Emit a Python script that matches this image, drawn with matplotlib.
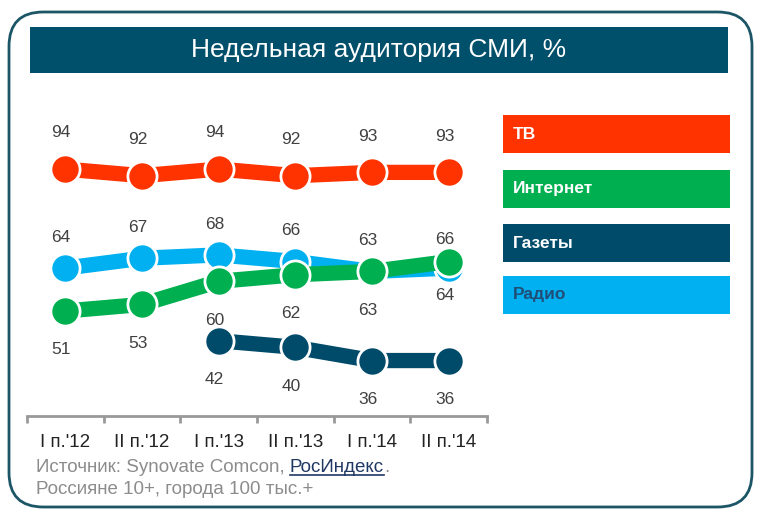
import numpy as np
import matplotlib.pyplot as plt
from matplotlib.patches import FancyBboxPatch, Rectangle
from matplotlib.lines import Line2D

plt.rcParams['font.family'] = ['Liberation Sans', 'DejaVu Sans']

periods = ["I п.'12", "II п.'12", "I п.'13", "II п.'13", "I п.'14", "II п.'14"]
tv = [94, 92, 94, 92, 93, 93]
radio = [64, 67, 68, 66, 63, 64]
internet = [51, 53, 60, 62, 63, 66]
gazety = [None, None, 42, 40, 36, 36]

names = ['ТВ', 'Интернет', 'Газеты', 'Радио']
colors = {'ТВ': '#ff3300', 'Интернет': '#00b050', 'Газеты': '#004a6a', 'Радио': '#00b0f0'}

W, H = 762, 514
fig = plt.figure(figsize=(W / 100, H / 100), dpi=100)

def px(x, y, w, h):
    # pixel box (top-left origin) -> figure fraction
    return [x / W, 1 - (y + h) / H, w / W, h / H]

# rounded frame
frame = FancyBboxPatch((9 / W, 1 - 507 / H), 743 / W, 495 / H,
                       boxstyle="round,pad=0,rounding_size=0.045",
                       transform=fig.transFigure, facecolor='none',
                       edgecolor='#1b5566', linewidth=2, mutation_aspect=W / H)
fig.patches.append(frame)

# title bar
x0, y0, w0, h0 = px(30, 27, 698, 46)
fig.patches.append(Rectangle((x0, y0), w0, h0, transform=fig.transFigure,
                             facecolor='#004f6b', edgecolor='none'))
fig.text(x0 + w0 / 2, y0 + h0 / 2, 'Недельная аудитория СМИ, %', color='white',
         fontsize=19, ha='center', va='center')

# legend boxes
leg_y = [115, 170, 224, 276]
for name, yy in zip(names, leg_y):
    bx, by, bw, bh = px(503, yy, 227, 38)
    fig.patches.append(Rectangle((bx, by), bw, bh, transform=fig.transFigure,
                                 facecolor=colors[name], edgecolor='none'))
    tc = '#1f4e79' if name == 'Радио' else 'white'
    fig.text(bx + 10 / W, by + bh / 2, name, color=tc, fontsize=12.5,
             fontweight='bold', ha='left', va='center')

ax = fig.add_axes(px(27, 110, 460, 306))
ax.set_facecolor('none')
ax.set_zorder(2)
x = np.arange(len(periods))

def draw(vals, name, z):
    xs = [i for i, v in enumerate(vals) if v is not None]
    ys = [v for v in vals if v is not None]
    ax.plot(xs, ys, color=colors[name], lw=11, solid_capstyle='round', zorder=z,
            marker='o', ms=21, mec='white', mew=2)

draw(tv, 'ТВ', 3)
draw(radio, 'Радио', 3)
draw(internet, 'Интернет', 4)
draw(gazety, 'Газеты', 3)

lab = dict(fontsize=12.5, color='#404040', ha='center', va='center')
for i, v in enumerate(tv):
    ax.annotate(str(v), (i, v), xytext=(-3, 26), textcoords='offset points', **lab)
for i, v in enumerate(radio):
    dy = -20 if i == 5 else 22
    ax.annotate(str(v), (i, v), xytext=(-3, dy), textcoords='offset points', **lab)
for i, v in enumerate(internet):
    dy = 16 if i == 5 else -28
    ax.annotate(str(v), (i, v), xytext=(-3, dy), textcoords='offset points', **lab)
for i, v in enumerate(gazety):
    if v is not None:
        ax.annotate(str(v), (i, v), xytext=(-3, -28), textcoords='offset points', **lab)

ax.set_xlim(-0.5, len(periods) - 0.5)
ax.set_ylim(19.2, 111.9)
ax.set_yticks([])
for s in ['top', 'right', 'left']:
    ax.spines[s].set_visible(False)
ax.spines['bottom'].set_color('#999999')
ax.spines['bottom'].set_linewidth(2)
ax.set_xticks(x)
ax.set_xticklabels(periods, fontsize=13.5, color='#222222')
ax.tick_params(axis='x', which='major', length=0, pad=13)
ax.set_xticks(np.arange(-0.5, len(periods)), minor=True)
ax.tick_params(axis='x', which='minor', length=5, width=2, color='#999999', direction='out')

# source
gray = '#8c8c8c'
fs = 13.5
t1 = fig.text(36 / W, 1 - 467 / H, 'Источник: Synovate Comcon, ', color=gray,
              fontsize=fs, ha='left', va='center')
fig.canvas.draw()
r = fig.canvas.get_renderer()
bb = t1.get_window_extent(r)
t2 = fig.text(bb.x1 / W, 1 - 467 / H, 'РосИндекс', color='#1f3864',
              fontsize=fs, ha='left', va='center')
bb2 = t2.get_window_extent(r)
fig.text(bb2.x1 / W, 1 - 467 / H, '.', color=gray, fontsize=fs, ha='left', va='center')
fig.add_artist(Line2D([bb2.x0 / W, bb2.x1 / W], [(bb2.y0 + 1) / H] * 2,
                      color='#1f3864', lw=1.2, transform=fig.transFigure))
fig.text(36 / W, 1 - 490 / H, 'Россияне 10+, города 100 тыс.+', color=gray,
         fontsize=fs, ha='left', va='center')

fig.savefig('out.png', dpi=100)
